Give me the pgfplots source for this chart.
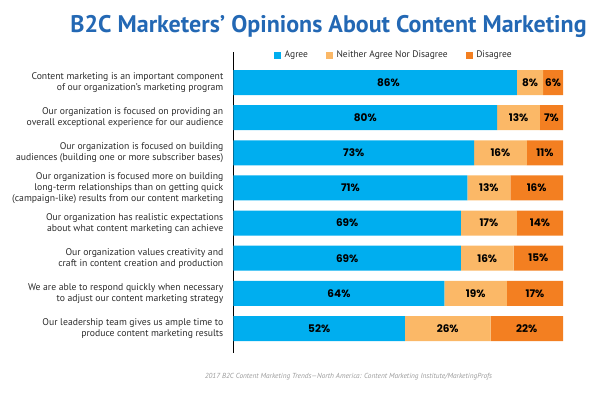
\documentclass[border=0pt]{standalone}
\usepackage{pgfplots}
\pgfplotsset{compat=1.18}
\usepackage{fontspec}
\setmainfont{PT Sans}
\newfontfamily\numfont{Poppins}
\definecolor{agree}{HTML}{00AEEF}
\definecolor{neither}{HTML}{FBB867}
\definecolor{disagree}{HTML}{F37F21}
\definecolor{titleblue}{HTML}{2368B4}
\definecolor{srcgray}{HTML}{9A9A9A}
\definecolor{labelgray}{HTML}{2B2B2B}
\newcommand{\legtext}[1]{\hspace{1.5pt}{\fontsize{9.5}{11}\selectfont\color{labelgray}#1}}
\begin{document}
\begin{tikzpicture}
\useasboundingbox (0,0) rectangle (600pt,398pt);
\node[anchor=base, text=titleblue, font=\bfseries\fontsize{24}{28}\selectfont, inner sep=0pt] at (328.5pt,365pt) {B2C Marketers’ Opinions About Content Marketing};
\begin{axis}[
  at={(233.5pt,45pt)}, anchor=south west,
  scale only axis, width=329.5pt, height=301pt,
  xbar stacked, bar width=25pt,
  xmin=0, xmax=100,
  ymin=-0.868, ymax=7.697, y dir=reverse,
  axis x line=none, axis y line=left,
  y axis line style={-, line width=1.5pt, black},
  ytick={0,...,7}, major tick length=0pt,
  yticklabels={
    {Content marketing is an important component\\of our organization’s marketing program},
    {Our organization is focused on providing an\\overall exceptional experience for our audience},
    {Our organization is focused on building\\audiences (building one or more subscriber bases)},
    {Our organization is focused more on building\\long-term relationships than on getting quick\\(campaign-like) results from our content marketing},
    {Our organization has realistic expectations\\about what content marketing can achieve},
    {Our organization values creativity and\\craft in content creation and production},
    {We are able to respond quickly when necessary\\to adjust our content marketing strategy},
    {Our leadership team gives us ample time to\\produce content marketing results}},
  yticklabel style={align=right, font=\fontsize{9.7}{11}\selectfont, text=labelgray, inner sep=0pt, xshift=-10pt},
  legend columns=3,
  legend style={at={(0.123,0.990)}, anchor=west, draw=none, fill=none, inner sep=0pt,
    /tikz/every even column/.append style={column sep=16pt}},
  legend cell align=left,
]
\addplot[fill=agree, draw=none, legend image code/.code={\fill[agree] (0pt,-3.5pt) rectangle (7pt,3.5pt);}] coordinates {(86,0) (80,1) (73,2) (71,3) (69,4) (69,5) (64,6) (52,7)};
\addplot[fill=neither, draw=none, legend image code/.code={\fill[neither] (0pt,-3.5pt) rectangle (7pt,3.5pt);}] coordinates {(8,0) (13,1) (16,2) (13,3) (17,4) (16,5) (19,6) (26,7)};
\addplot[fill=disagree, draw=none, legend image code/.code={\fill[disagree] (0pt,-3.5pt) rectangle (7pt,3.5pt);}] coordinates {(6,0) (7,1) (11,2) (16,3) (14,4) (15,5) (17,6) (22,7)};
\legend{{\legtext{Agree}}, {\legtext{Neither Agree Nor Disagree}}, {\legtext{Disagree}}}
\end{axis}
\begin{axis}[
  at={(233.5pt,45pt)}, anchor=south west,
  scale only axis, width=329.5pt, height=301pt,
  xmin=0, xmax=100,
  ymin=-0.868, ymax=7.697, y dir=reverse,
  hide axis, clip=false,
  nodes near coords={\pgfplotspointmeta\%},
  point meta=explicit symbolic,
  nodes near coords align={anchor=center},
  every node near coord/.append style={font=\numfont\bfseries\fontsize{10.5}{12}\selectfont, text=black, inner sep=0pt},
]
\addplot[only marks, mark=*, mark size=0pt, mark options={draw=none, fill=none}] coordinates {
 (47,0) [86] (40,1) [80] (36.5,2) [73] (35.5,3) [71] (34.5,4) [69] (34.5,5) [69] (32,6) [64] (26,7) [52]};
\addplot[only marks, mark=*, mark size=0pt, mark options={draw=none, fill=none}] coordinates {
 (90,0) [8] (86.5,1) [13] (81,2) [16] (77.5,3) [13] (77.5,4) [17] (77,5) [16] (73.5,6) [19] (65,7) [26]};
\addplot[only marks, mark=*, mark size=0pt, mark options={draw=none, fill=none}] coordinates {
 (97,0) [6] (96.5,1) [7] (94.5,2) [11] (92,3) [16] (93,4) [14] (92.5,5) [15] (91.5,6) [17] (89,7) [22]};
\end{axis}
\node[anchor=base, font=\itshape\fontsize{7.3}{9}\selectfont, text=srcgray, inner sep=0pt] at (348.5pt,19pt) {2017 B2C Content Marketing Trends—North America: Content Marketing Institute/MarketingProfs};
\end{tikzpicture}
\end{document}
